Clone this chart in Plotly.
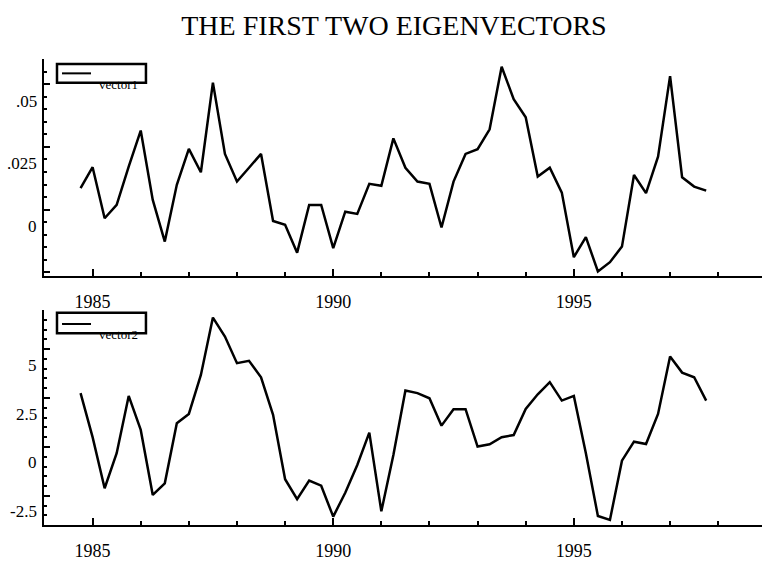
import plotly.graph_objects as go

# ------------------------------------------------------------
# quarterly dates 1984Q4 .. 1997Q4 and the two eigenvectors
# ------------------------------------------------------------
quarters = [1984.75] + [y + q / 4 for y in range(1985, 1998) for q in range(4)]

vector1 = [
    0.0086, 0.0169, -0.0034, 0.0019, 0.0171, 0.0315, 0.0039, -0.0127,
    0.0099, 0.0242, 0.0149, 0.0506, 0.0222, 0.0112, 0.0167, 0.0222,
    -0.0045, -0.0060, -0.0171, 0.0019, 0.0019, -0.0153, -0.0008, -0.0017,
    0.0103, 0.0095, 0.0284, 0.0167, 0.0112, 0.0103, -0.0071, 0.0112,
    0.0222, 0.0241, 0.0320, 0.0569, 0.0440, 0.0368, 0.0132, 0.0167,
    0.0068, -0.0189, -0.0109, -0.0246, -0.0209, -0.0147, 0.0138, 0.0066,
    0.0211, 0.0532, 0.0129, 0.0092, 0.0076,
]

vector2 = [
    2.75, 0.50, -2.11, -0.32, 2.61, 0.87, -2.45, -1.86,
    1.21, 1.69, 3.68, 6.61, 5.64, 4.28, 4.40, 3.56,
    1.64, -1.65, -2.67, -1.72, -1.98, -3.56, -2.34, -0.92,
    0.73, -3.29, -0.41, 2.88, 2.75, 2.49, 1.09, 1.93,
    1.93, 0.02, 0.14, 0.50, 0.61, 1.94, 2.69, 3.31,
    2.37, 2.61, -0.32, -3.53, -3.73, -0.70, 0.27, 0.15,
    1.69, 4.62, 3.80, 3.56, 2.37,
]

labels1 = [".05", ".025", "0"]
values1 = [0.05, 0.025, 0.0]
labels2 = ["5", "2.5", "0", "-2.5"]
values2 = [5, 2.5, 0, -2.5]

SERIF = "Liberation Serif, Times New Roman, serif"

fig = go.Figure()
fig.add_trace(go.Scatter(x=quarters, y=vector1, mode="lines", name="vector1",
                         line=dict(color="black", width=2.5),
                         xaxis="x", yaxis="y"))
fig.add_trace(go.Scatter(x=quarters, y=vector2, mode="lines", name="vector2",
                         line=dict(color="black", width=2.5),
                         xaxis="x2", yaxis="y2"))

xcommon = dict(
    range=[1983.99, 1998.91], showgrid=False, zeroline=False, automargin=False,
    showline=True, linecolor="black", linewidth=2,
    tickmode="linear", tick0=1985, dtick=5,
    ticks="inside", ticklen=7, tickwidth=2, tickcolor="black",
    minor=dict(dtick=1, tick0=1985, ticks="inside", ticklen=4,
               tickwidth=2, tickcolor="black"),
    tickfont=dict(family=SERIF, size=18, color="black"),
    ticklabelstandoff=8,
)
ycommon = dict(
    showgrid=False, zeroline=False, showline=True, automargin=False,
    linecolor="black", linewidth=2, showticklabels=False,
    ticks="inside", ticklen=6, tickwidth=2, tickcolor="black",
)

fig.update_layout(
    width=762, height=563,
    margin=dict(l=44, r=0, t=0, b=0, autoexpand=False),
    plot_bgcolor="white", paper_bgcolor="white",
    showlegend=False,
    title=dict(text="THE FIRST TWO EIGENVECTORS", x=0.517, xanchor="center",
               y=0.955, yanchor="middle",
               font=dict(family=SERIF, size=28, color="black")),
    xaxis=dict(xcommon, anchor="y"),
    yaxis=dict(ycommon, domain=[0.5089, 0.8952], range=[-0.0266, 0.06],
               tickmode="linear", tick0=0, dtick=0.025,
               minor=dict(dtick=0.005, ticks="inside", ticklen=3,
                          tickwidth=2, tickcolor="black")),
    xaxis2=dict(xcommon, anchor="y2"),
    yaxis2=dict(ycommon, domain=[0.0671, 0.4494], range=[-4.0, 7.0],
                tickmode="linear", tick0=0, dtick=2.5,
                minor=dict(dtick=0.5, ticks="inside", ticklen=3,
                           tickwidth=2, tickcolor="black")),
)

# y tick labels sit a little below their ticks in the original
for lab, val in zip(labels1, values1):
    fig.add_annotation(text=lab, xref="x domain", yref="y", x=0, y=val,
                       xanchor="right", yanchor="middle", xshift=-5, yshift=-17,
                       showarrow=False, font=dict(family=SERIF, size=17, color="black"))
for lab, val in zip(labels2, values2):
    fig.add_annotation(text=lab, xref="x2 domain", yref="y2", x=0, y=val,
                       xanchor="right", yanchor="middle", xshift=-5, yshift=-16,
                       showarrow=False, font=dict(family=SERIF, size=17, color="black"))

# legend boxes drawn like the original (key line inside, name under the box)
for ax, name, (y0, y1, yl, yt) in [("", "vector1", (0.891, 0.977, 0.934, 0.885)),
                                   ("2", "vector2", (0.892, 0.987, 0.935, 0.885))]:
    xr, yr = "x%s domain" % ax, "y%s domain" % ax
    fig.add_shape(type="rect", xref=xr, yref=yr, x0=0.0181, x1=0.142, y0=y0, y1=y1,
                  line=dict(color="black", width=2.5), fillcolor="rgba(0,0,0,0)")
    fig.add_shape(type="line", xref=xr, yref=yr, x0=0.0251, x1=0.0655, y0=yl, y1=yl,
                  line=dict(color="black", width=2))
    fig.add_annotation(text=name, xref=xr, yref=yr, x=0.074, y=yt,
                       xanchor="left", yanchor="middle", showarrow=False,
                       font=dict(family=SERIF, size=13, color="black"))

# page body has a default 8px margin; drop it so the 762x563 figure fills the window
fig.write_html("out.html",
               config={"displayModeBar": False},
               post_script="document.body.style.margin='0';"
                           "document.body.style.overflow='hidden';")
